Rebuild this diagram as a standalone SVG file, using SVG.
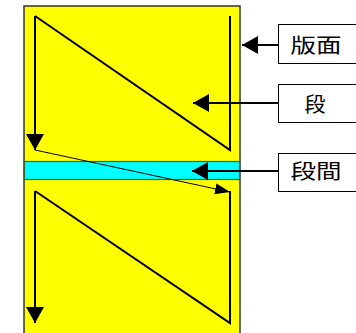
<svg xmlns="http://www.w3.org/2000/svg" width="356" height="333" viewBox="0 0 356 333">
<defs>
<style>
.page{fill:#ffff00;stroke:#333333;stroke-width:1.5}
.gap{fill:#00ffff;stroke:#336633;stroke-width:1.2}
.ln{fill:none;stroke:#000;stroke-width:2}
.thin{fill:none;stroke:#000;stroke-width:1}
.box{fill:#fff;stroke:#000;stroke-width:1}
.lbl{font-family:"Noto Sans CJK JP","Noto Sans CJK SC",sans-serif;font-size:20px;fill:#000;text-anchor:middle;dominant-baseline:central}
</style>
<marker id="ah" viewBox="0 0 16 18" refX="16" refY="9" markerWidth="16" markerHeight="18" markerUnits="userSpaceOnUse" orient="auto">
<path d="M0,0L16,9L0,18Z" fill="#000"/>
</marker>
<marker id="ahs" viewBox="0 0 15 11" refX="15" refY="5.5" markerWidth="15" markerHeight="11" markerUnits="userSpaceOnUse" orient="auto">
<path d="M0,0L15,5.5L0,11Z" fill="#000"/>
</marker>
</defs>
<g id="page">
<rect class="page" x="24" y="6" width="216" height="335"/>
<rect class="gap" x="24.5" y="161.5" width="215" height="18"/>
</g>
<g id="connectors">
<path class="ln" d="M35,16L35,150" marker-end="url(#ah)"/>
<path class="ln" d="M35,16L230,150L230,16"/>
<path class="thin" d="M35,150L230,192" marker-end="url(#ahs)"/>
<path class="ln" d="M35,191L35,323" marker-end="url(#ah)"/>
<path class="ln" d="M35,191L230,323L230,191"/>
<path class="ln" d="M278,45L242,45" marker-end="url(#ah)"/>
<path class="ln" d="M278,103L193,103" marker-end="url(#ah)"/>
<path class="ln" d="M278,171L192,171" marker-end="url(#ah)"/>
</g>
<g id="label-hanmen">
<rect class="box" x="278.5" y="24.5" width="90" height="39"/>
<text class="lbl" x="316" y="44" textLength="51" lengthAdjust="spacingAndGlyphs">版面</text>
</g>
<g id="label-dan">
<rect class="box" x="278.5" y="84.5" width="90" height="38"/>
<text class="lbl" x="315" y="103" textLength="21" lengthAdjust="spacingAndGlyphs">段</text>
</g>
<g id="label-dankan">
<rect class="box" x="278.5" y="153.5" width="90" height="38"/>
<text class="lbl" x="316" y="170.5" textLength="51" lengthAdjust="spacingAndGlyphs">段間</text>
</g>
</svg>
